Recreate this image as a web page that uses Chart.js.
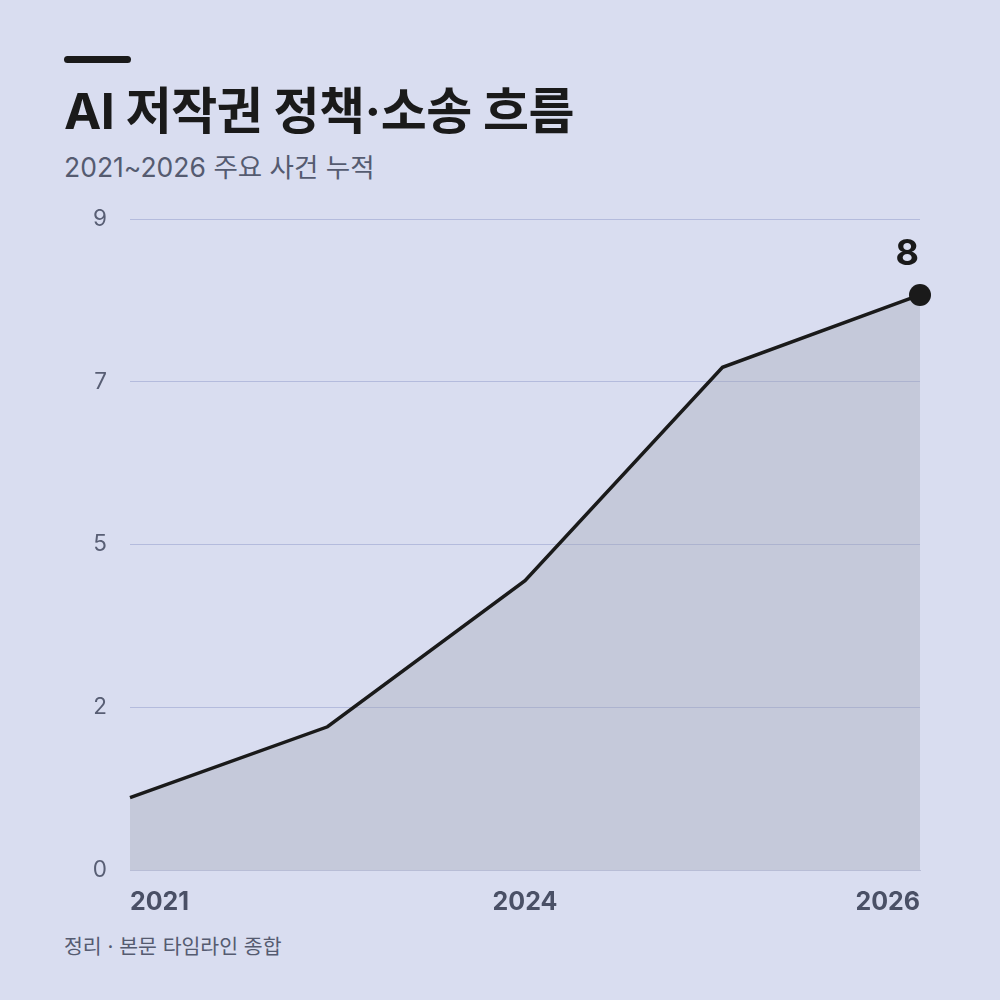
<!DOCTYPE html>
<html lang="ko">
<head>
<meta charset="utf-8">
<script src="https://cdn.jsdelivr.net/npm/chart.js@4.4.1/dist/chart.umd.min.js"></script>
<style>
  html, body { margin: 0; padding: 0; }
  body {
    width: 1000px; height: 1000px; position: relative; overflow: hidden;
    background: #d9ddf0;
    font-family: "Inter", "Noto Sans CJK KR", sans-serif;
  }
  .bar { position: absolute; left: 64px; top: 56px; width: 67px; height: 7px; border-radius: 4px; background: #1a1a1a; }
  h1 { position: absolute; left: 64px; top: 81px; margin: 0; font-size: 50px; font-weight: 700; color: #1a1a1a; letter-spacing: -0.5px; line-height: 1.2; }
  .sub { position: absolute; left: 64px; top: 152px; font-size: 26.5px; color: #555b70; line-height: 1.2; }
  .note { position: absolute; left: 64px; top: 935px; font-size: 20.5px; color: #555b70; line-height: 1.2; }
  #wrap { position: absolute; left: 0; top: 0; width: 1000px; height: 1000px; }
</style>
</head>
<body>
<div class="bar"></div>
<h1>AI 저작권 정책·소송 흐름</h1>
<div class="sub">2021~2026 주요 사건 누적</div>
<div class="note">정리 · 본문 타임라인 종합</div>
<div id="wrap"><canvas id="chart" width="1000" height="1000"></canvas></div>
<script>
// data
const years = ['2021', '2023', '2024', '2025', '2026'];
const cumulative = [1, 1.98, 4, 6.95, 7.95];
const yTicks = [0, 2.25, 4.5, 6.75, 9];
const shownYears = ['2021', '2024', '2026'];

const font = '"Inter", "Noto Sans CJK KR", sans-serif';

// label above the last point
const lastLabel = {
  id: 'lastLabel',
  afterDatasetsDraw(chart) {
    const meta = chart.getDatasetMeta(0);
    const i = cumulative.length - 1;
    const pt = meta.data[i];
    const ctx = chart.ctx;
    ctx.save();
    ctx.font = '700 36px ' + font;
    ctx.fillStyle = '#1a1a1a';
    ctx.textAlign = 'right';
    ctx.textBaseline = 'alphabetic';
    ctx.fillText(String(Math.round(cumulative[i])), pt.x - 1, pt.y - 30);
    ctx.restore();
  }
};

new Chart(document.getElementById('chart'), {
  type: 'line',
  data: {
    labels: years,
    datasets: [{
      data: cumulative,
      borderColor: '#1a1a1a',
      borderWidth: 3.5,
      backgroundColor: 'rgba(160,165,180,0.36)',
      fill: 'origin',
      tension: 0,
      pointRadius: cumulative.map((v, i) => i === cumulative.length - 1 ? 11 : 0),
      pointBackgroundColor: '#1a1a1a',
      pointBorderWidth: 0,
      clip: false
    }]
  },
  options: {
    responsive: false,
    animation: false,
    devicePixelRatio: 1,
    layout: { padding: { top: 219, right: 80, left: 0, bottom: 0 } },
    plugins: { legend: { display: false }, tooltip: { enabled: false } },
    scales: {
      x: {
        offset: false,
        grid: { display: false },
        border: { display: true, color: '#b8bdd6', width: 1 },
        ticks: {
          autoSkip: false,
          maxRotation: 0,
          align: 'inner',
          padding: 9,
          color: '#4a5066',
          font: { family: font, size: 25, weight: '700' },
          callback(v, i) { return shownYears.includes(years[i]) ? years[i] : ''; }
        },
        afterFit(scale) { scale.height = 130; }
      },
      y: {
        min: 0,
        max: 9,
        afterBuildTicks(scale) { scale.ticks = yTicks.map(v => ({ value: v })); },
        grid: { color: 'rgba(150,158,205,0.55)', lineWidth: 1, drawTicks: false },
        border: { display: false },
        ticks: {
          padding: 23,
          color: '#585e74',
          font: { family: font, size: 22.5 },
          callback(v) { return String(Math.round(v)); }
        },
        afterFit(scale) { scale.width = 130; }
      }
    }
  },
  plugins: [lastLabel]
});
</script>
</body>
</html>
